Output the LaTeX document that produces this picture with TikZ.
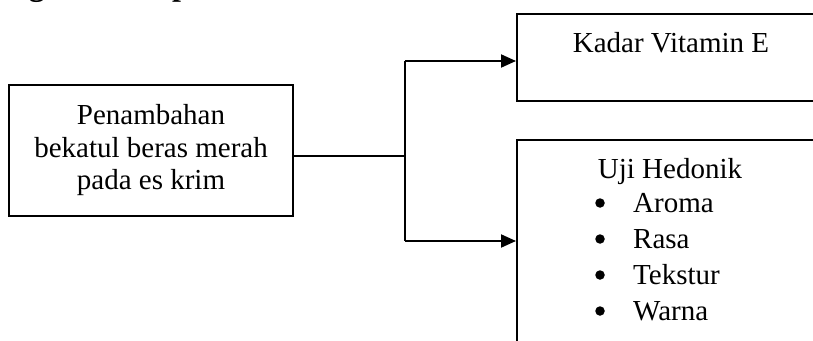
\documentclass[tikz,border=0pt]{standalone}
\usepackage{fontspec}
\setmainfont{Liberation Serif}
\usetikzlibrary{arrows.meta}
\begin{document}
\begin{tikzpicture}[x=1pt,y=-1pt,
  box/.style={draw, line width=1.8pt, rectangle, inner sep=0pt},
  body/.style={font=\fontsize{29}{32.5}\selectfont, inner sep=0pt},
  dot/.style={circle, fill, inner sep=0pt, minimum size=9.5pt},
  conn/.style={line width=2pt},
  arr/.style={conn, -{Triangle[length=15pt,width=13pt]}}]
\useasboundingbox (0,0) rectangle (813,340);
\clip (0,0) rectangle (813,340);
% partly visible heading
\node[font=\fontsize{32}{36}\selectfont\bfseries, inner sep=0pt, anchor=base west] (head) at (-8.6,-5) {Bagan Konsep};
% source box
\node[box, body, minimum width=284pt, minimum height=131pt, align=center] (src) at (151,150.5) {Penambahan\\bekatul beras merah\\pada es krim};
% target boxes
\node[box, minimum width=400pt, minimum height=87pt, anchor=north west] (kadarbox) at (516,13) {};
\node[body, anchor=base] (kadar) at (671,52) {Kadar Vitamin E};
\node[box, minimum width=400pt, minimum height=260pt, anchor=north west] (ujibox) at (516,139) {};
\node[body, anchor=base] (uji) at (670,178) {Uji Hedonik};
\node[dot] (b1) at (600,203) {};
\node[body, anchor=base west] (i1) at (633,212) {Aroma};
\node[dot] (b2) at (600,239) {};
\node[body, anchor=base west] (i2) at (633,248) {Rasa};
\node[dot] (b3) at (600,275) {};
\node[body, anchor=base west] (i3) at (633,284) {Tekstur};
\node[dot] (b4) at (600,311) {};
\node[body, anchor=base west] (i4) at (633,320) {Warna};
% connectors
\coordinate (j) at (405,156);
\coordinate (jt) at (405,61);
\coordinate (jb) at (405,241);
\draw[conn] (src.east |- j) -- (j);
\draw[conn] (jt) -- (jb);
\draw[arr] (jt) -- (kadarbox.west |- jt);
\draw[arr] (jb) -- (ujibox.west |- jb);
\end{tikzpicture}
\end{document}
